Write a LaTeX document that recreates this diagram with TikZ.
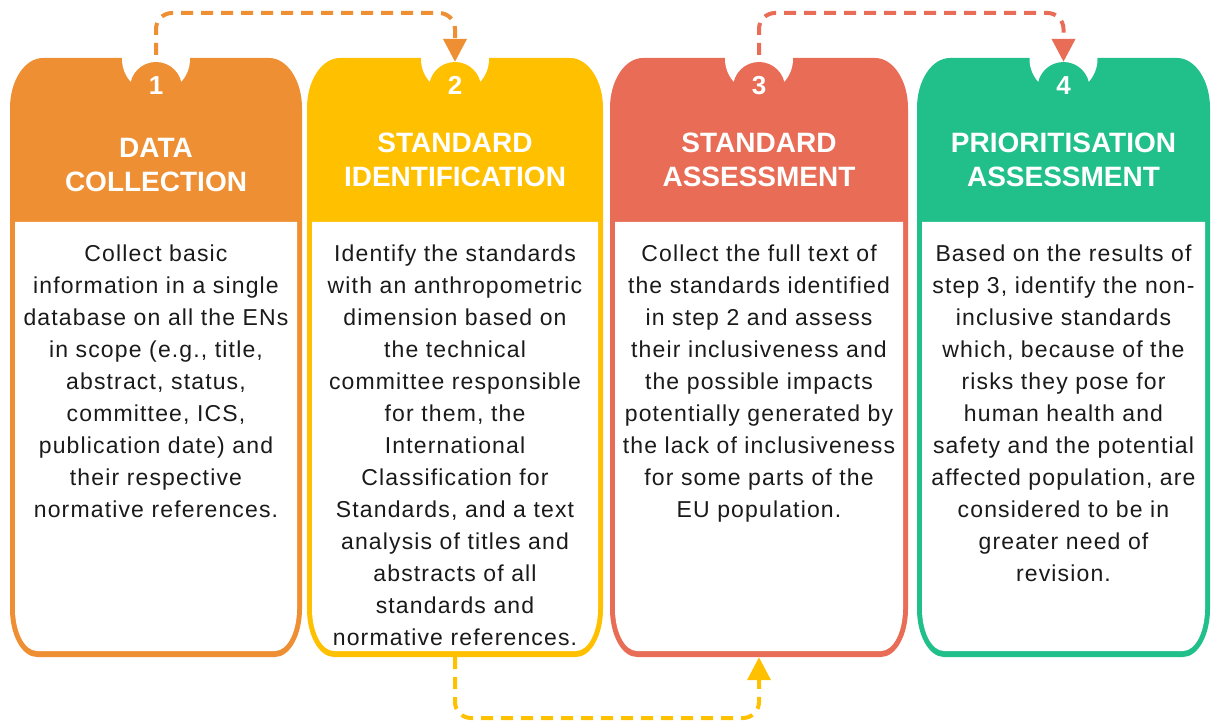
\documentclass[tikz,border=0pt]{standalone}
\usepackage{fontspec}
\setmainfont{Liberation Sans}
\newfontfamily\bodyfont[LetterSpace=5]{Liberation Sans}
\usetikzlibrary{arrows.meta}

\definecolor{cOrange}{HTML}{EE8F33}
\definecolor{cYellow}{HTML}{FFC000}
\definecolor{cCoral}{HTML}{E86C56}
\definecolor{cGreen}{HTML}{21C08B}
\definecolor{bodyink}{HTML}{1A1A1A}

% card outline: coloured frame with elliptical corners and a white body
\newcommand\drawcard[3]{%
  \fill[#3] (#1,108) .. controls (#1,80.4) and ({#1+14.8},58) .. ({#1+33},58)
    -- ({#2-33},58) .. controls ({#2-14.8},58) and (#2,80.4) .. (#2,108)
    -- (#2,609) .. controls (#2,635.5) and ({#2-12.1},657) .. ({#2-27},657)
    -- ({#1+27},657) .. controls ({#1+12.1},657) and (#1,635.5) .. (#1,609) -- cycle;
  \fill[white] ({#1+5},222) -- ({#2-5},222) -- ({#2-5},609)
    .. controls ({#2-5},632.2) and ({#2-14.85},651) .. ({#2-27},651)
    -- ({#1+27},651) .. controls ({#1+14.85},651) and ({#1+5},632.2) .. ({#1+5},609) -- cycle;
}

\tikzset{
  bump/.style={circle, fill=#1, minimum size=52pt, inner sep=0pt},
  numtext/.style={anchor=base, text=white, inner sep=0pt,
    font=\bfseries\fontsize{26}{30}\selectfont},
  titletext/.style={anchor=north, text=white, align=center, inner sep=0pt,
    font=\bfseries\fontsize{28}{34}\selectfont},
  bodytext/.style={anchor=north, text=bodyink, align=center, inner sep=0pt,
    font=\bodyfont\fontsize{23}{32}\selectfont},
  cardarea/.style={minimum width=292pt, minimum height=599pt, inner sep=0pt},
  flow/.style={draw=#1, line width=4pt, dash pattern=on 12pt off 8pt,
    rounded corners=16pt, -{Triangle[length=23pt,width=23pt,fill=#1]}},
}

\begin{document}
\begin{tikzpicture}[x=1pt, y=-1pt]
\useasboundingbox (0,0) rectangle (1211,722);

% cards
\drawcard{10}{302}{cOrange}
\drawcard{307}{603}{cYellow}
\drawcard{610}{908}{cCoral}
\drawcard{917}{1210}{cGreen}

\node[cardarea] (c1) at (156,357.5) {};
\node[cardarea] (c2) at (455,357.5) {};
\node[cardarea] (c3) at (759,357.5) {};
\node[cardarea] (c4) at (1063.5,357.5) {};

% notches with numbered bumps
\foreach \cx/\col/\k in {156/cOrange/1, 455/cYellow/2, 759/cCoral/3, 1063.5/cGreen/4}{
  \fill[white] (\cx,59) circle[radius=34];
}
\node[bump=cOrange] (n1) at (156,88) {};
\node[bump=cYellow] (n2) at (455,88) {};
\node[bump=cCoral]  (n3) at (759,88) {};
\node[bump=cGreen]  (n4) at (1063.5,88) {};
\node[numtext] (k1) at (156,95) {1};
\node[numtext] (k2) at (455,95) {2};
\node[numtext] (k3) at (759,95) {3};
\node[numtext] (k4) at (1063.5,95) {4};

% headings
\node[titletext] (h1) at (156,138) {DATA\\COLLECTION};
\node[titletext] (h2) at (455,133) {STANDARD\\IDENTIFICATION};
\node[titletext] (h3) at (759,133) {STANDARD\\ASSESSMENT};
\node[titletext] (h4) at (1063.5,133) {PRIORITISATION\\ASSESSMENT};

% descriptions
\node[bodytext] (d1) at (156,244.5) {Collect basic\\information in a single\\database on all the ENs\\in scope (e.g., title,\\abstract, status,\\committee, ICS,\\publication date) and\\their respective\\normative references.};
\node[bodytext] (d2) at (455,244.5) {Identify the standards\\with an anthropometric\\dimension based on\\the technical\\committee responsible\\for them, the\\International\\Classification for\\Standards, and a text\\analysis of titles and\\abstracts of all\\standards and\\normative references.};
\node[bodytext] (d3) at (759,244.5) {Collect the full text of\\the standards identified\\in step 2 and assess\\their inclusiveness and\\the possible impacts\\potentially generated by\\the lack of inclusiveness\\for some parts of the\\EU population.};
\node[bodytext] (d4) at (1063.5,244.5) {Based on the results of\\step 3, identify the non-\\inclusive standards\\which, because of the\\risks they pose for\\human health and\\safety and the potential\\affected population, are\\considered to be in\\greater need of\\revision.};

% dashed connectors
\coordinate (toprail) at (0,13);
\coordinate (botrail) at (0,718);
\draw[flow=cOrange, shorten <=7pt] (n1.north) -- (n1.north |- toprail) -- (n2.north |- toprail) -- (n2.north);
\draw[flow=cCoral, shorten <=7pt] (n3.north) -- (n3.north |- toprail) -- (n4.north |- toprail) -- (n4.north);
\draw[flow=cYellow] (c2.south) -- (c2.south |- botrail) -- (c3.south |- botrail) -- (c3.south);
\end{tikzpicture}
\end{document}
